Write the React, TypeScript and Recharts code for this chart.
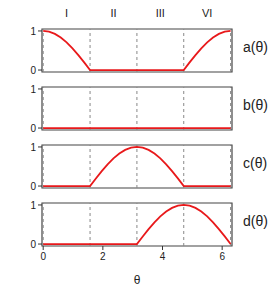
import React from 'react';
import { LineChart, Line, XAxis, YAxis, ReferenceLine, ReferenceArea } from 'recharts';

const thetaValues = [0, 0.196, 0.393, 0.589, 0.785, 0.982, 1.178, 1.374, 1.571, 1.767, 1.963, 2.160, 2.356, 2.553, 2.749, 2.945, 3.142, 3.338, 3.534, 3.731, 3.927, 4.123, 4.320, 4.516, 4.712, 4.909, 5.105, 5.301, 5.498, 5.694, 5.890, 6.087, 6.283];
const aValues = [1, 0.981, 0.924, 0.831, 0.707, 0.556, 0.383, 0.195, 0, 0, 0, 0, 0, 0, 0, 0, 0, 0, 0, 0, 0, 0, 0, 0, 0, 0.195, 0.383, 0.556, 0.707, 0.831, 0.924, 0.981, 1];
const bValues = [0, 0, 0, 0, 0, 0, 0, 0, 0, 0, 0, 0, 0, 0, 0, 0, 0, 0, 0, 0, 0, 0, 0, 0, 0, 0, 0, 0, 0, 0, 0, 0, 0];
const cValues = [0, 0, 0, 0, 0, 0, 0, 0, 0, 0.195, 0.383, 0.556, 0.707, 0.831, 0.924, 0.981, 1, 0.981, 0.924, 0.831, 0.707, 0.556, 0.383, 0.195, 0, 0, 0, 0, 0, 0, 0, 0, 0];
const dValues = [0, 0, 0, 0, 0, 0, 0, 0, 0, 0, 0, 0, 0, 0, 0, 0, 0, 0.195, 0.383, 0.556, 0.707, 0.831, 0.924, 0.981, 1, 0.981, 0.924, 0.831, 0.707, 0.556, 0.383, 0.195, 0];

const panelNames = ['a(θ)', 'b(θ)', 'c(θ)', 'd(θ)'];
const panelKeys = ['a', 'b', 'c', 'd'];
const regionLabels = ['I', 'II', 'III', 'VI'];
const regionCenters = [0.785, 2.356, 3.927, 5.498];
const dividers = [0, 1.571, 3.142, 4.712, 6.283];
const xTicks = [0, 2, 4, 6];
const yTicks = [0, 1];
const xLabel = 'θ';

const data = thetaValues.map((t, i) => ({
  theta: t,
  a: aValues[i],
  b: bValues[i],
  c: cValues[i],
  d: dValues[i],
}));

const FONT = '"Liberation Sans", Arial, sans-serif';
const RED = '#e8191b';
const X_DOMAIN: [number, number] = [-0.04, 6.33];
const Y_DOMAIN: [number, number] = [-0.05, 1.05];
const BOX_H = 43;
const boxTops = [29, 87, 145, 203];

function Panel({ idx }: { idx: number }) {
  const isFirst = idx === 0;
  const isLast = idx === 3;
  const marginTop = isFirst ? 29 : 5;
  const bottomH = isLast ? 46 : 10;
  const height = marginTop + BOX_H + bottomH;
  const top = boxTops[idx] - marginTop;
  const key = panelKeys[idx];
  return (
    <div style={{ position: 'absolute', left: 0, top }}>
      <LineChart
        width={273}
        height={height}
        data={data}
        margin={{ top: marginTop, right: 41, bottom: 0, left: 0 }}
        style={{ fontFamily: FONT }}
      >
        <XAxis
          dataKey="theta"
          type="number"
          domain={X_DOMAIN}
          ticks={xTicks}
          allowDataOverflow
          height={bottomH}
          axisLine={false}
          tickLine={{ stroke: '#333' }}
          tickSize={4}
          tickMargin={3}
          tick={isLast ? { fontSize: 10, fill: '#222' } : false}
          label={isLast ? { value: xLabel, position: 'insideBottom', offset: 8, fontSize: 12, fill: '#222' } : undefined}
        />
        <YAxis
          type="number"
          domain={Y_DOMAIN}
          ticks={yTicks}
          width={42}
          axisLine={false}
          tickLine={{ stroke: '#333' }}
          tickSize={4}
          tickMargin={2}
          tick={{ fontSize: 10, fill: '#222' }}
        />
        {dividers.map((v) => (
          <ReferenceLine key={v} x={v} stroke="#888" strokeDasharray="3 3" strokeWidth={1} />
        ))}
        {isFirst &&
          regionCenters.map((c, i) => (
            <ReferenceLine
              key={'r' + c}
              x={c}
              stroke="none"
              label={{ value: regionLabels[i], position: 'top', offset: 12, fontSize: 11, fill: '#222' }}
            />
          ))}
        <ReferenceArea
          x1={X_DOMAIN[0]}
          x2={X_DOMAIN[1]}
          y1={Y_DOMAIN[0]}
          y2={Y_DOMAIN[1]}
          fill="none"
          fillOpacity={0}
          stroke="#444"
          strokeWidth={1.2}
        />
        <Line
          type="linear"
          dataKey={key}
          stroke={RED}
          strokeWidth={1.8}
          dot={false}
          isAnimationActive={false}
        />
      </LineChart>
      <div
        style={{
          position: 'absolute',
          left: 243,
          top: marginTop + BOX_H / 2 - 12,
          fontFamily: FONT,
          fontSize: 14,
          color: '#222',
          lineHeight: '16px',
          whiteSpace: 'nowrap',
        }}
      >
        {panelNames[idx]}
      </div>
    </div>
  );
}

export default function App() {
  return (
    <div style={{ position: 'absolute', left: 0, top: 0, width: 273, height: 293, background: '#fff' }}>
      {[0, 1, 2, 3].map((i) => (
        <Panel key={i} idx={i} />
      ))}
    </div>
  );
}
